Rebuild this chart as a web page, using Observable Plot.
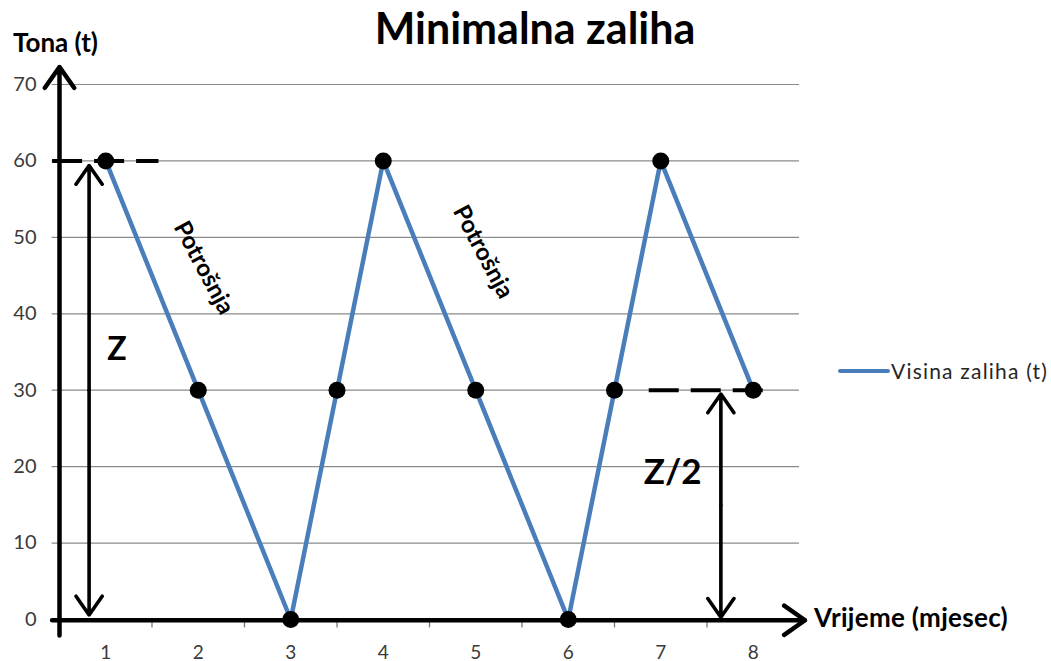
<!DOCTYPE html>
<html>
<head>
<meta charset="utf-8">
<script src="https://cdn.jsdelivr.net/npm/d3@7"></script>
<script src="https://cdn.jsdelivr.net/npm/@observablehq/plot@0.6"></script>
<style>
  html, body { margin: 0; padding: 0; background: #fff; }
  #wrap { position: relative; width: 1051px; height: 661px; font-family: Lato, "Open Sans", sans-serif; }
  #wrap svg { position: absolute; left: 0; top: 0; }
  .lbl { position: absolute; white-space: nowrap; color: #000; font-weight: bold; line-height: 1; }
</style>
</head>
<body>
<div id="wrap"></div>
<script>
// ---- data ----
const months = [1, 2, 3, 3.5, 4, 5, 6, 6.5, 7, 8];
const stock  = [60, 30, 0, 30, 60, 30, 0, 30, 60, 30];
const xTickLabels = [1, 2, 3, 4, 5, 6, 7, 8];
const yTickLabels = [0, 10, 20, 30, 40, 50, 60, 70];
const categoryBounds = [1.5, 2.5, 3.5, 4.5, 5.5, 6.5, 7.5];
const seriesName = "Visina zaliha (t)";
const titleText = "Minimalna zaliha";
const yTitle = "Tona (t)";
const xTitle = "Vrijeme (mjesec)";

// annotations (data units)
const dashedLevels = [{x1: 0.42, x2: 1.57, y: 60}, {x1: 6.87, x2: 8.16, y: 30}];
const doubleArrows = [{x: 0.82, top: 59.4, bottom: 0.6}, {x: 7.65, top: 29.5, bottom: 0.3}];
const arrowLabels = [{x: 1.12, y: 35.3, text: "Z", size: 32}, {x: 7.13, y: 19.2, text: "Z/2", size: 35}];
const notes = [{x: 2.06, y: 46.0, text: "Potrošnja"}, {x: 5.08, y: 48.1, text: "Potrošnja"}];

const data = months.map((m, i) => ({month: m, value: stock[i]}));
const blue = "#4A7EBB";

const arrowHalves = doubleArrows.flatMap(d => {
  const mid = (d.top + d.bottom) / 2;
  return [{x: d.x, y1: mid, y2: d.top}, {x: d.x, y1: mid, y2: d.bottom}];
});

const chart = Plot.plot({
  width: 1051,
  height: 661,
  marginLeft: 59,
  marginRight: 252,
  marginTop: 84,
  marginBottom: 42,
  x: {domain: [0.5, 8.5], axis: null},
  y: {domain: [0, 70], axis: null},
  style: {fontFamily: "Lato, 'Open Sans', sans-serif", background: "#fff", overflow: "visible"},
  marks: [
    // gridlines
    Plot.ruleY(yTickLabels, {y: d => d, x1: 0.42, x2: 8.5, stroke: "#8a8a8a", strokeWidth: 1.2}),
    // category boundary ticks
    Plot.ruleX(categoryBounds, {x: d => d, y1: 0, y2: -1.1, stroke: "#7a7a7a", strokeWidth: 1.3}),
    // y tick labels
    Plot.text(yTickLabels, {x: 0.5, y: d => d, text: d => String(d), dx: -23, textAnchor: "end", fontSize: 20, fill: "#3a3a3a"}),
    // x tick labels
    Plot.text(xTickLabels, {x: d => d, y: 0, text: d => String(d), dy: 33, fontSize: 19, fill: "#3a3a3a"}),
    // dashed levels
    Plot.link(dashedLevels, {x1: "x1", x2: "x2", y1: "y", y2: "y", stroke: "#000", strokeWidth: 4, strokeDasharray: "30,12"}),
    // series line
    Plot.line(data, {x: "month", y: "value", stroke: blue, strokeWidth: 4.5}),
    Plot.dot(data, {x: "month", y: "value", r: 8.5, fill: "#000", stroke: "none"}),
    // axes with arrowheads
    Plot.arrow([{x1: 0.5, x2: 0.5, y1: -2.1, y2: 72.3}], {x1: "x1", x2: "x2", y1: "y1", y2: "y2", stroke: "#000", strokeWidth: 4.5, headLength: 8.5, headAngle: 70}),
    Plot.arrow([{x1: 0.42, x2: 8.56, y1: -0.1, y2: -0.1}], {x1: "x1", x2: "x2", y1: "y1", y2: "y2", stroke: "#000", strokeWidth: 4.5, headLength: 8.5, headAngle: 70}),
    // double arrows
    Plot.arrow(arrowHalves, {x1: "x", x2: "x", y1: "y1", y2: "y2", stroke: "#000", strokeWidth: 3.6, headLength: 9.5, headAngle: 70}),
    Plot.text(arrowLabels, {x: "x", y: "y", text: "text", fontSize: d => d.size, fontWeight: "bold", fill: "#000"}),
    Plot.text(notes, {x: "x", y: "y", text: "text", rotate: 62, fontSize: 24, fontWeight: "bold", fill: "#000"})
  ]
});

const wrap = document.getElementById("wrap");
wrap.appendChild(chart);

function addLabel(text, left, top, size, extra) {
  const el = document.createElement("div");
  el.className = "lbl";
  el.textContent = text;
  el.style.left = left + "px";
  el.style.top = top + "px";
  el.style.fontSize = size + "px";
  if (extra) Object.assign(el.style, extra);
  wrap.appendChild(el);
  return el;
}
addLabel(titleText, 0, 6, 43, {width: "1070px", textAlign: "center"});
addLabel(yTitle, 13, 29, 26);
addLabel(xTitle, 814, 604, 26, {letterSpacing: "0.3px"});

// legend
const leg = document.createElement("div");
leg.style.cssText = "position:absolute;left:838px;top:358px;display:flex;align-items:center;";
const sw = document.createElement("div");
sw.style.cssText = `width:52px;height:4px;background:${blue};border-radius:2px;`;
const lt = document.createElement("span");
lt.textContent = seriesName;
lt.style.cssText = "font-size:21px;line-height:1.2;color:#262626;margin-left:1px;letter-spacing:1.2px;";
leg.appendChild(sw); leg.appendChild(lt);
wrap.appendChild(leg);
</script>
</body>
</html>
